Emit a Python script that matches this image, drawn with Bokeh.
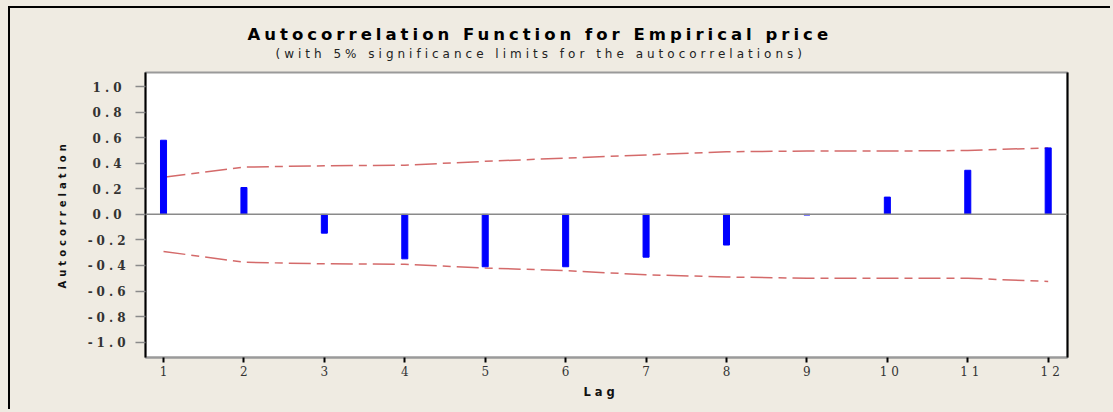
from bokeh.plotting import figure
from bokeh.models import (Range1d, FixedTicker, NumeralTickFormatter, LinearAxis,
                          Span, Title, GlobalInlineStyleSheet)
from bokeh.embed import file_html
from bokeh.resources import INLINE

# ---- data ----
lags = [1, 2, 3, 4, 5, 6, 7, 8, 9, 10, 11, 12]
acf = [0.58, 0.21, -0.147, -0.348, -0.41, -0.41, -0.335, -0.24, -0.005, 0.135, 0.345, 0.52]
upper_limit = [0.29, 0.37, 0.38, 0.385, 0.415, 0.44, 0.465, 0.49, 0.495, 0.495, 0.50, 0.52]
lower_limit = [-0.29, -0.375, -0.387, -0.39, -0.42, -0.44, -0.473, -0.49, -0.5, -0.5, -0.5, -0.525]
y_ticks = [-1.0, -0.8, -0.6, -0.4, -0.2, 0.0, 0.2, 0.4, 0.6, 0.8, 1.0]
x_ticks = lags
title_text = "Autocorrelation Function for Empirical price"
subtitle_text = "(with 5% significance limits for the autocorrelations)"
x_label = "Lag"
y_label = "Autocorrelation"

BG = "#EFEBE2"
X0, X1 = 0.776, 12.24
Y0, Y1 = -1.12, 1.11

page_css = GlobalInlineStyleSheet(css=f"html, body {{ margin: 0; padding: 0; background: {BG}; overflow: hidden; }}")

p = figure(width=1102, height=403, output_backend="svg", toolbar_location=None,
           x_range=Range1d(X0, X1), y_range=Range1d(Y0, Y1),
           min_border_left=135, min_border_top=64, min_border_right=45, min_border_bottom=54,
           background_fill_color="white", border_fill_color=BG)
p.styles = {"border-top": "2px solid black", "border-left": "2px solid black",
            "margin-left": "8px", "margin-top": "6px", "letter-spacing": "4px"}
p.stylesheets = [page_css]
p.grid.visible = False
p.outline_line_color = "#9a9a9a"
p.outline_line_width = 2

# y axis
ya = p.yaxis[0]
ya.ticker = FixedTicker(ticks=y_ticks)
ya.formatter = NumeralTickFormatter(format="0.0")
ya.axis_line_color = "black"
ya.axis_line_width = 2
ya.major_tick_out = 10
ya.major_tick_in = 0
ya.major_tick_line_color = "#8a8a8a"
ya.major_tick_line_width = 1.5
ya.minor_tick_line_color = None
ya.major_label_standoff = 22
ya.major_label_text_font = "DejaVu Serif"
ya.major_label_text_font_style = "bold"
ya.major_label_text_font_size = "12px"
ya.major_label_text_color = "#333333"

# x axis
xa = p.xaxis[0]
xa.ticker = FixedTicker(ticks=x_ticks)
xa.axis_line_color = "#9a9a9a"
xa.axis_line_width = 2
xa.major_tick_out = 5
xa.major_tick_in = 0
xa.major_tick_line_color = "black"
xa.major_tick_line_width = 2
xa.minor_tick_line_color = None
xa.major_label_standoff = 3
xa.major_label_text_font = "DejaVu Serif"
xa.major_label_text_font_size = "12px"
xa.major_label_text_color = "#333333"

# right frame edge (black)
ra = LinearAxis(ticker=FixedTicker(ticks=[]), axis_line_color="black", axis_line_width=2,
                major_tick_line_color=None, minor_tick_line_color=None,
                major_label_text_font_size="0px")
p.add_layout(ra, "right")

# axis titles
p.add_layout(Title(text=y_label, align="left", offset=69, standoff=32,
                   vertical_align="middle", text_font="DejaVu Sans", text_font_style="bold",
                   text_font_size="10px", text_color="#111111"), "left")
p.add_layout(Title(text=x_label, align="left", offset=438, standoff=12,
                   vertical_align="top", text_font="DejaVu Sans", text_font_style="bold",
                   text_font_size="11.5px", text_color="#111111"), "below")

# chart titles (first added sits nearest the frame)
p.add_layout(Title(text=subtitle_text, align="left", offset=130, standoff=24,
                   vertical_align="bottom", text_font="DejaVu Sans", text_font_style="normal",
                   text_font_size="12px", text_color="#222222"), "above")
p.add_layout(Title(text=title_text, align="left", offset=102, standoff=-22,
                   vertical_align="bottom", text_font="DejaVu Sans", text_font_style="bold",
                   text_font_size="16.5px", text_color="black"), "above")

# zero line
p.add_layout(Span(location=0, dimension="width", line_color="#8a8a8a", line_width=1.5))

# significance limits
for lim in (upper_limit, lower_limit):
    p.line(lags, lim, line_color="#d46a6a", line_width=1.5, line_dash="22 6 8 6")

# autocorrelation bars
p.vbar(x=lags, top=acf, bottom=0, width=0.075, fill_color="#0000FF", line_color="#0000FF")

open("out.html", "w").write(file_html(p, INLINE))
